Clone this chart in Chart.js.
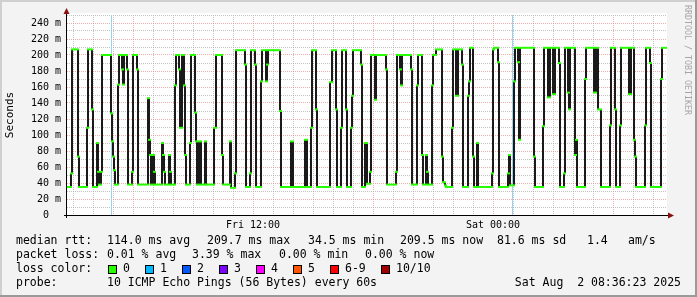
<!DOCTYPE html>
<html>
<head>
<meta charset="utf-8">
<script src="https://cdn.jsdelivr.net/npm/chart.js@4.4.1/dist/chart.umd.min.js"></script>
<style>
  html, body { margin: 0; padding: 0; background: #f3f3f3; }
  canvas { display: block; }
</style>
</head>
<body>
<canvas id="myChart" width="697" height="297"></canvas>
<script>
// median rtt steps: start time (minutes since Fri 00:00) and median (ms)
var stepMin = [
  162,174,177,195,198,222,225,237,240,252,
  255,258,264,267,294,297,300,303,306,315,
  318,327,330,333,342,345,357,360,372,375,
  405,408,411,414,420,423,426,447,450,453,
  456,468,471,474,486,489,498,501,507,513,
  516,519,531,534,546,549,552,558,564,576,
  579,603,609,627,630,651,654,666,669,696,
  699,711,714,726,729,744,747,759,762,765,
  801,804,834,840,876,882,894,897,909,912,
  951,957,969,972,984,987,999,1002,1014,1017,
  1020,1044,1047,1056,1062,1071,1074,1086,1089,1119,
  1122,1149,1152,1161,1164,1167,1194,1197,1212,1215,
  1227,1230,1239,1242,1245,1257,1260,1269,1287,1290,
  1296,1299,1317,1320,1329,1335,1347,1350,1365,1368,
  1371,1380,1383,1392,1395,1437,1440,1443,1455,1458,
  1485,1488,1491,1503,1506,1515,1518,1521,1563,1566,
  1590,1593,1605,1611,1620,1626,1638,1641,1653,1656,
  1665,1668,1671,1686,1689,1692,1716,1719,1743,1749,
  1755,1764,1791,1794,1806,1809,1821,1824,1848,1854,
  1863,1866,1869,1896,1899,1911,1914,1944,1947
];
var stepRtt = [
  35,52,207,73,35,109,207,132,35,90,
  54,38,54,200,127,92,73,56,38,163,
  200,182,163,200,182,38,54,200,182,38,
  146,94,75,38,75,54,38,90,75,54,
  38,75,54,38,162,200,182,109,200,162,
  75,38,90,200,128,92,38,92,38,92,
  38,109,200,75,38,92,34,52,206,188,
  35,52,206,188,35,167,206,167,188,206,
  130,35,92,35,94,35,109,206,132,35,
  166,206,132,35,109,206,132,35,109,149,
  206,188,35,90,39,54,200,144,200,182,
  38,54,200,182,162,200,182,38,162,200,
  75,38,75,54,38,162,200,207,73,41,
  37,35,109,207,149,207,188,35,149,167,
  209,73,35,90,35,52,207,209,191,35,
  52,75,37,167,209,191,94,209,73,35,
  111,209,147,209,151,209,190,35,52,209,
  153,132,209,75,94,35,170,209,153,209,
  132,35,112,209,132,35,112,209,151,209,
  94,73,35,112,209,190,35,170,209
];
var startMin = 162;
var endMin = 1962;

// steps with 1 of 10 pings lost
var lossMin = [294, 1498];

var xLabelMin = [720, 1440];
var xLabelText = ["Fri 12:00", "Sat 00:00"];

var rttText = ["median rtt:", "114.0 ms avg", "209.7 ms max", "34.5 ms min", "209.5 ms now", "81.6 ms sd", "1.4", "am/s"];
var lossText = ["packet loss:", "0.01 % avg", "3.39 % max", "0.00 % min", "0.00 % now"];
var lossNames = ["0", "1", "2", "3", "4", "5", "6-9", "10/10"];
var lossColors = ["#26ff00", "#00b8ff", "#0059ff", "#7e00ff", "#ff00ff", "#ff5500", "#ff0000", "#a00000"];
var probeText = ["probe:", "10 ICMP Echo Pings (56 Bytes) every 60s", "Sat Aug  2 08:36:23 2025"];

var pts = [];
for (var i = 0; i < stepMin.length; i++) {
  var next = i + 1 < stepMin.length ? stepMin[i + 1] : endMin;
  pts.push({x: stepMin[i], y: stepRtt[i]}, {x: next, y: stepRtt[i]});
}

var hourMarks = [];
for (var t = 180; t < endMin; t += 60) hourMarks.push(t);

var MONO = "DejaVu Sans Mono";
var PINK = "rgba(230,140,140,0.7)";
var GREY = "rgba(170,170,170,0.7)";

function isVert(c) { return c.p0.parsed.x === c.p1.parsed.x; }

var rrdLook = {
  id: "rrdLook",
  beforeDraw: function (chart) {
    var ctx = chart.ctx, a = chart.chartArea;
    ctx.save();
    ctx.fillStyle = "#f3f3f3";
    ctx.fillRect(0, 0, 697, 297);
    ctx.fillStyle = "#cfcfcf";
    ctx.fillRect(0, 0, 697, 2);
    ctx.fillRect(0, 0, 2, 297);
    ctx.fillStyle = "#9a9a9a";
    ctx.fillRect(0, 295, 697, 2);
    ctx.fillRect(695, 0, 2, 297);
    ctx.fillStyle = "#ffffff";
    ctx.fillRect(a.left, a.top - 2, a.right - a.left, a.bottom - a.top + 2);
    ctx.restore();
  },
  beforeDatasetsDraw: function (chart) {
    var ctx = chart.ctx, a = chart.chartArea, x = chart.scales.x;
    ctx.save();
    ctx.fillStyle = "#95d5f0";
    lossMin.forEach(function (m) {
      ctx.fillRect(Math.round(x.getPixelForValue(m)), a.top, 1, a.bottom - a.top);
    });
    ctx.restore();
  },
  afterDatasetsDraw: function (chart) {
    var ctx = chart.ctx, a = chart.chartArea;
    ctx.save();
    ctx.strokeStyle = "#000";
    ctx.lineWidth = 1;
    ctx.beginPath();
    ctx.moveTo(a.left - 0.5, a.bottom + 3);
    ctx.lineTo(a.left - 0.5, a.top - 2);
    ctx.moveTo(a.left - 3, a.bottom + 0.5);
    ctx.lineTo(a.right + 3, a.bottom + 0.5);
    ctx.stroke();
    ctx.fillStyle = "#8b1010";
    ctx.beginPath();
    ctx.moveTo(a.left - 0.5, a.top - 7);
    ctx.lineTo(a.left - 3.5, a.top - 1);
    ctx.lineTo(a.left + 2.5, a.top - 1);
    ctx.closePath();
    ctx.fill();
    ctx.beginPath();
    ctx.moveTo(a.right + 7, a.bottom + 0.5);
    ctx.lineTo(a.right + 1, a.bottom - 2.5);
    ctx.lineTo(a.right + 1, a.bottom + 3.5);
    ctx.closePath();
    ctx.fill();
    ctx.restore();
  },
  afterDraw: function (chart) {
    var ctx = chart.ctx;
    ctx.save();
    ctx.fillStyle = "#000";
    ctx.font = "11.5px '" + MONO + "'";
    ctx.textBaseline = "middle";
    ctx.textAlign = "left";
    var rttX = [16, 107, 207, 308, 400, 497, 587, 628];
    rttText.forEach(function (s, k) { ctx.fillText(s, rttX[k], 241.5); });
    var lossX = [16, 107, 192, 279, 365];
    lossText.forEach(function (s, k) { ctx.fillText(s, lossX[k], 255.5); });
    ctx.fillText("loss color:", 16, 269.5);
    var boxX = [108, 145, 182, 219, 256, 293, 330, 381];
    lossNames.forEach(function (s, k) {
      ctx.fillStyle = lossColors[k];
      ctx.fillRect(boxX[k], 265, 9, 9);
      ctx.strokeStyle = "#000";
      ctx.lineWidth = 1;
      ctx.strokeRect(boxX[k] + 0.5, 265.5, 8, 8);
      ctx.fillStyle = "#000";
      ctx.fillText(s, boxX[k] + 15, 269.5);
    });
    ctx.fillText(probeText[0], 16, 283);
    ctx.fillText(probeText[1], 107, 283);
    ctx.textAlign = "right";
    ctx.fillText(probeText[2], 681, 283);
    // watermark
    ctx.translate(687, 5);
    ctx.rotate(Math.PI / 2);
    ctx.textAlign = "left";
    ctx.font = "8.3px '" + MONO + "'";
    ctx.fillStyle = "#a6a6a6";
    ctx.fillText("RRDTOOL / TOBI OETIKER", 0, 0);
    ctx.restore();
  }
};

new Chart("myChart", {
  type: "line",
  data: {
    datasets: [{
      data: pts,
      borderColor: "#26ff00",
      borderWidth: 2,
      borderCapStyle: "square",
      pointRadius: 0,
      order: 0,
      segment: {borderColor: function (c) { return isVert(c) ? "rgba(0,0,0,0)" : "#26ff00"; }}
    }, {
      data: pts,
      borderColor: "#1a1a1a",
      borderWidth: 2,
      pointRadius: 0,
      order: 1,
      segment: {borderColor: function (c) { return isVert(c) ? "#1a1a1a" : "rgba(0,0,0,0)"; }}
    }]
  },
  options: {
    responsive: false,
    animation: false,
    devicePixelRatio: 1,
    layout: {padding: {left: 0, top: 15, right: 30, bottom: 0}},
    plugins: {legend: {display: false}, tooltip: {enabled: false}},
    scales: {
      x: {
        type: "linear",
        min: startMin,
        max: endMin,
        afterFit: function (s) { s.height = 82; },
        afterBuildTicks: function (s) { s.ticks = hourMarks.map(function (v) { return {value: v}; }); },
        ticks: {
          autoSkip: false, maxRotation: 0, minRotation: 0, padding: 4, color: "#000",
          font: {family: MONO, size: 10},
          callback: function (v) { var k = xLabelMin.indexOf(v); return k < 0 ? "" : xLabelText[k]; }
        },
        grid: {drawTicks: false, lineWidth: 1, color: function (c) { return c.tick && c.tick.value % 360 === 0 ? PINK : GREY; }},
        border: {display: false, dash: [1, 1]}
      },
      y: {
        min: 0,
        max: 250,
        afterFit: function (s) { s.width = 67; },
        ticks: {
          stepSize: 10, autoSkip: false, padding: 6, color: "#000",
          font: {family: MONO, size: 10},
          callback: function (v) { return v === 0 ? "0  " : (v % 20 === 0 && v < 250 ? v + " m" : ""); }
        },
        grid: {drawTicks: false, lineWidth: 1, color: function (c) { return c.tick && c.tick.value % 20 === 0 ? PINK : GREY; }},
        border: {display: false, dash: [1, 1]},
        title: {display: true, text: "Seconds", color: "#000", font: {family: MONO, size: 11}, padding: {top: 4, bottom: 0}}
      }
    }
  },
  plugins: [rrdLook]
});
</script>
</body>
</html>
